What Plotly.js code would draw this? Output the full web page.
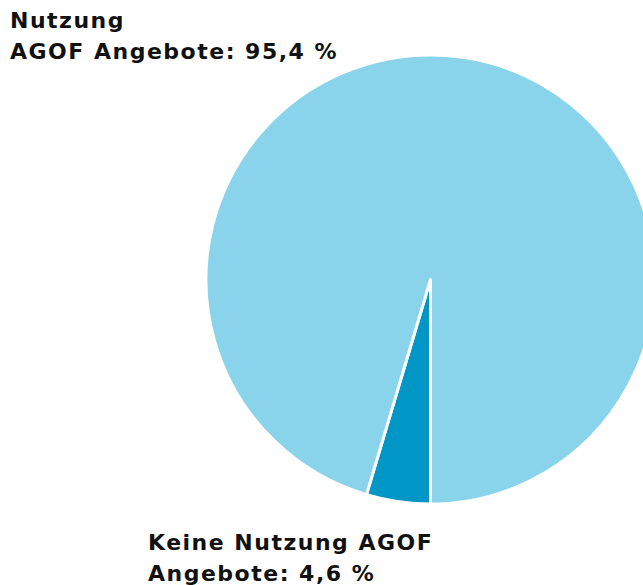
<!DOCTYPE html>
<html>
<head>
<meta charset="utf-8">
<script src="https://cdn.plot.ly/plotly-3.0.1.min.js"></script>
<style>
html,body{margin:0;padding:0;overflow:hidden;background:#fff;}
#chart{width:700px;height:585px;}
#chart .annotation-text{letter-spacing:1.5px;}
</style>
</head>
<body>
<div id="chart"></div>
<script>
var labels = ["Keine Nutzung AGOF Angebote", "Nutzung AGOF Angebote"];
var values = [4.6, 95.4];
var colors = ["#0097c7", "#8ad4eb"];
var labelLinesSmall = ["Keine Nutzung AGOF", "Angebote: 4,6 %"];
var labelLinesBig = ["Nutzung", "AGOF Angebote: 95,4 %"];

var W = 700, H = 585, L = 206, R = 45, T = 55, B = 81;
var pw = W - L - R, ph = H - T - B;
function px(x){ return (x - L) / pw; }
function py(y){ return (H - B - y) / ph; }

var data = [{
  type: "pie",
  labels: labels,
  values: values,
  sort: false,
  direction: "clockwise",
  rotation: 180,
  textinfo: "none",
  hoverinfo: "label+percent",
  marker: {colors: colors, line: {color: "#ffffff", width: 3}},
  domain: {x: [0, 1], y: [0, 1]}
}];

var font = {family: "DejaVu Sans, Verdana, sans-serif", size: 22, color: "#111111"};
function ann(t, x, y){
  return {text: "<b>" + t + "</b>", xref: "paper", yref: "paper", x: px(x), y: py(y),
    xanchor: "left", yanchor: "top", align: "left", showarrow: false, font: font};
}
var layout = {
  width: W, height: H,
  margin: {l: L, r: R, t: T, b: B, pad: 0},
  showlegend: false,
  paper_bgcolor: "#ffffff",
  annotations: [
    ann(labelLinesBig[0], 8, 6),
    ann(labelLinesBig[1], 8, 37),
    ann(labelLinesSmall[0], 146, 528),
    ann(labelLinesSmall[1], 146, 559)
  ]
};
Plotly.newPlot("chart", data, layout, {displayModeBar: false, staticPlot: true});
</script>
</body>
</html>
